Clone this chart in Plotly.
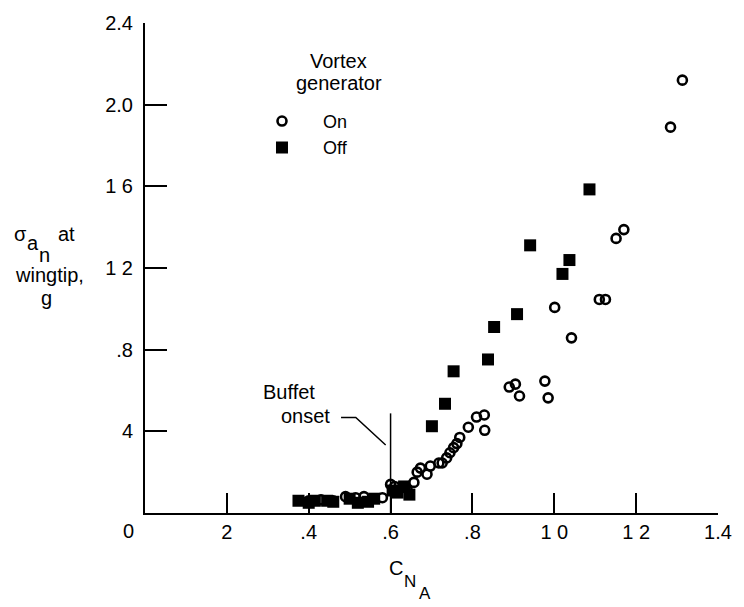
import plotly.graph_objects as go

# ---- data ----
on_x = [0.40, 0.43, 0.46, 0.49, 0.515, 0.535, 0.58, 0.60, 0.61, 0.64, 0.657, 0.665,
        0.673, 0.689, 0.697, 0.718, 0.726, 0.737, 0.745, 0.754, 0.762, 0.769,
        0.79, 0.81, 0.829, 0.83, 0.89, 0.905, 0.915, 0.977, 0.985, 1.001, 1.042,
        1.11, 1.125, 1.151, 1.17, 1.284, 1.313]
on_y = [0.06, 0.065, 0.06, 0.08, 0.075, 0.08, 0.075, 0.14, 0.13, 0.12, 0.15, 0.20,
        0.22, 0.19, 0.23, 0.245, 0.245, 0.27, 0.295, 0.32, 0.34, 0.37,
        0.42, 0.47, 0.48, 0.405, 0.617, 0.631, 0.573, 0.646, 0.564, 1.007, 0.858,
        1.046, 1.046, 1.345, 1.388, 1.89, 2.12]

off_x = [0.375, 0.40, 0.415, 0.445, 0.46, 0.50, 0.52, 0.545, 0.56, 0.605, 0.617,
         0.633, 0.646, 0.701, 0.733, 0.754, 0.838, 0.853, 0.909, 0.941, 1.020,
         1.037, 1.086]
off_y = [0.06, 0.05, 0.06, 0.06, 0.055, 0.07, 0.05, 0.055, 0.07, 0.11, 0.10,
         0.13, 0.09, 0.425, 0.535, 0.694, 0.752, 0.911, 0.974, 1.311, 1.171,
         1.239, 1.585]

x_tickvals = [0.2, 0.4, 0.6, 0.8, 1.0, 1.2, 1.4]
x_ticktext = ["2", ".4", ".6", ".8", "1 0", "1 2", "1.4"]
y_tickvals = [0.4, 0.8, 1.2, 1.6, 2.0, 2.4]
y_ticktext = ["4", ".8", "1 2", "1 6", "2.0", "2.4"]

FONT = "Liberation Sans, Arial, sans-serif"

W, H = 744, 607
L, R, T, B = 145, 20, 16, 94

fig = go.Figure()
fig.add_trace(go.Scatter(
    x=on_x, y=on_y, mode="markers", name="On",
    marker=dict(symbol="circle-open", size=9, color="black", line=dict(width=2.6, color="black")),
))
fig.add_trace(go.Scatter(
    x=off_x, y=off_y, mode="markers", name="Off",
    marker=dict(symbol="square", size=12, color="black", line=dict(width=0)),
))

# buffet onset marker line and leader
fig.add_shape(type="line", xref="x", yref="y", x0=0.6, x1=0.6, y0=0, y1=0.488,
              line=dict(color="black", width=1.5))
fig.add_shape(type="path", xref="x", yref="y",
              path="M 0.479 0.468 L 0.515 0.468 L 0.588 0.333",
              line=dict(color="black", width=1.5))

ann = []
def px(xp, yp, s, size=20, xanchor="center"):
    # convert a pixel position in the 744x607 page to paper coords
    pw, ph = W - L - R, H - T - B
    ann.append(dict(x=(xp - L) / pw, y=(H - B - yp) / ph, xref="paper", yref="paper",
                    text=s, showarrow=False, xanchor=xanchor, yanchor="middle",
                    font=dict(size=size, color="black", family=FONT)))

px(291, 390, "Buffet")
px(307, 415, "onset")
px(341, 55, "Vortex")
px(341, 77, "generator")
px(128, 531, "0", 20)
px(19, 230, "σ", 20)
px(32, 239, "a", 20)
px(43, 251, "n", 20)
px(66, 230, "at", 20)
px(48, 272, "wingtip,", 20)
px(45, 295, "g", 20)
px(399, 569, "C", 20)
px(413, 582, "N", 17)
px(428, 595, "A", 17)

fig.update_layout(
    width=W, height=H,
    margin=dict(l=L, r=R, t=T, b=B),
    paper_bgcolor="white", plot_bgcolor="white",
    font=dict(family=FONT, size=20, color="black"),
    annotations=ann,
    showlegend=True,
    legend=dict(
        x=(242 - L) / (W - L - R), y=1 - (97 - T) / (H - T - B),
        xanchor="left", yanchor="top",
        font=dict(size=18, family=FONT),
        bgcolor="rgba(0,0,0,0)", itemwidth=72, tracegroupgap=0,
    ),
    xaxis=dict(range=[0, 1.4], tickvals=x_tickvals, ticktext=x_ticktext,
               showgrid=False, zeroline=False, showline=True, linecolor="black",
               linewidth=2, ticks="inside", ticklen=20, tickwidth=2, tickcolor="black",
               tickfont=dict(size=20, family=FONT)),
    yaxis=dict(range=[0, 2.4], tickvals=y_tickvals, ticktext=y_ticktext,
               showgrid=False, zeroline=False, showline=True, linecolor="black",
               linewidth=2, ticks="inside", ticklen=22, tickwidth=2, tickcolor="black",
               tickfont=dict(size=20, family=FONT), ticklabelstandoff=6),
)

fig.write_html("out.html")
